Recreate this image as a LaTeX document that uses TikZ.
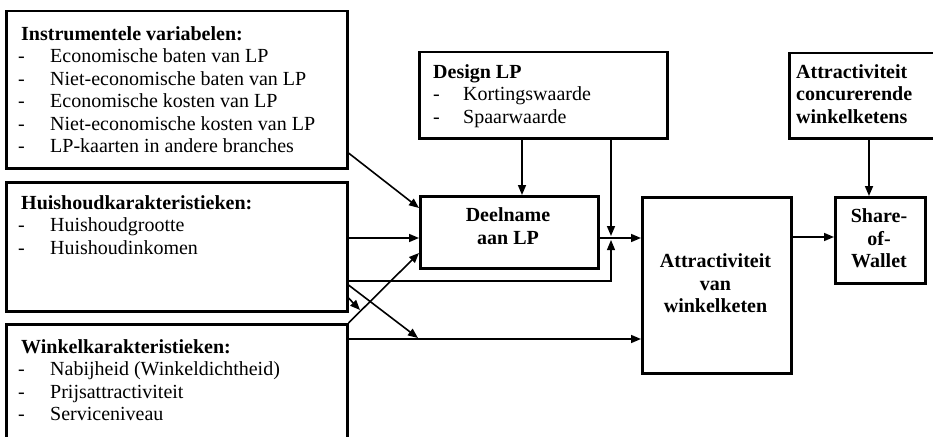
\documentclass[tikz,border=0pt]{standalone}
\usepackage{fontspec}
\setmainfont{Liberation Serif}
\usetikzlibrary{arrows.meta}
\newcommand{\itm}[1]{\makebox[32pt][l]{-}#1}
\newcommand{\itmb}[1]{\makebox[30pt][l]{-}#1}
\begin{document}
\begin{tikzpicture}[x=1pt,y=-1pt,
  frame/.style={draw, line width=2.5pt, rectangle, inner sep=0pt, anchor=north west},
  listtxt/.style={anchor=north west, inner sep=0pt, align=left,
                  font=\fontsize{20}{22.5}\selectfont},
  ctrtxt/.style={align=center, inner sep=0pt,
                 font=\fontsize{20}{22.5}\selectfont\bfseries},
  link/.style={line width=1.6pt, -{Triangle[length=10pt,width=8pt]}},
  thinlink/.style={line width=1.1pt, -{Triangle[length=10pt,width=8pt]}}
  ]
\useasboundingbox (0,0) rectangle (933,436);
\clip (0,0) rectangle (933,436);

% left column of factor boxes
\node[frame, minimum width=341pt, minimum height=157pt] (instr) at (5,10) {};
\node[frame, minimum width=341pt, minimum height=129pt] (huis) at (5,181) {};
\node[frame, minimum width=341pt, minimum height=135pt] (winkel) at (5,323) {};

\node[listtxt] (instrtxt) at (18,26) {\hspace*{3pt}\textbf{Instrumentele variabelen:}\\
  \itm{Economische baten van LP}\\
  \itm{Niet-economische baten van LP}\\
  \itm{Economische kosten van LP}\\
  \itm{Niet-economische kosten van LP}\\
  \itm{LP-kaarten in andere branches}};
\node[listtxt] (huistxt) at (18,195) {\hspace*{3pt}\textbf{Huishoudkarakteristieken:}\\
  \itm{Huishoudgrootte}\\
  \itm{Huishoudinkomen}};
\node[listtxt] (winkeltxt) at (18,339) {\hspace*{3pt}\textbf{Winkelkarakteristieken:}\\
  \itm{Nabijheid (Winkeldichtheid)}\\
  \itm{Prijsattractiviteit}\\
  \itm{Serviceniveau}};

% top boxes
\node[frame, minimum width=248pt, minimum height=86pt] (design) at (418,51) {};
\node[listtxt] (designtxt) at (433,64) {\textbf{Design LP}\\
  \itmb{Kortingswaarde}\\
  \itmb{Spaarwaarde}};
\node[frame, minimum width=160pt, minimum height=85pt] (conc) at (788,52) {};
\node[listtxt, font=\fontsize{20}{22.5}\selectfont\bfseries] (conctxt) at (796,64)
  {Attractiviteit\\concurerende\\winkelketens};

% central chain
\node[frame, minimum width=178pt, minimum height=72pt] (deel) at (419,195) {};
\node[ctrtxt] (deeltxt) at (508,226) {Deelname\\aan LP};
\node[frame, minimum width=149pt, minimum height=176pt] (attr) at (641,196) {};
\node[ctrtxt] (attrtxt) at (715.5,283.5) {Attractiviteit\\van\\winkelketen};
\node[frame, minimum width=90pt, minimum height=86pt] (share) at (834,196) {};
\node[ctrtxt] (sharetxt) at (879,238.5) {Share-\\of-\\Wallet};

% junction points
\coordinate (jtop) at (611,236);
\coordinate (jbot) at (611,240);
\coordinate (hcorner) at (611,281);
\coordinate (wmid) at (418,338);
\coordinate (stub) at (360,310);

% connectors
\draw[link] (instr.east |- 0,153) -- (deel.west |- 0,208);
\draw[link] (huis.east |- 0,238) -- (deel.west |- 0,238);
\draw[link] (winkel.north east) -- (deel.west |- 0,253);
\draw[thinlink] (huis.east |- 0,281) -- (hcorner) -- (jbot);
\draw[link] (design.south -| 611,0) -- (jtop);
\draw[link] (design.south -| 522,0) -- (deel.north -| 522,0);
\draw[link] (deel.east |- 0,238) -- (attr.west |- 0,238);
\draw[link] (huis.east |- 0,285) -- (wmid);
\draw[link] (huis.east |- 0,298) -- (stub);
\draw[link] (winkel.east |- 0,339) -- (attr.west |- 0,339);
\draw[link] (attr.east |- 0,237) -- (share.west |- 0,237);
\draw[link] (conc.south -| 869,0) -- (share.north -| 869,0);
\end{tikzpicture}
\end{document}
